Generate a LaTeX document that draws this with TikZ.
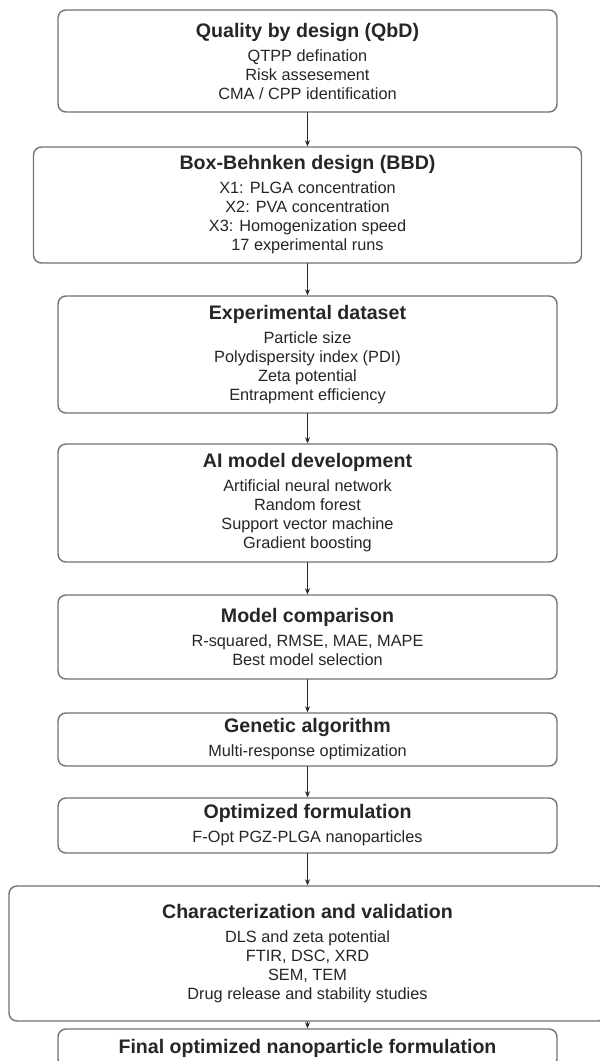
\documentclass[tikz,border=0pt]{standalone}
\usepackage{fontspec}
\setmainfont{Liberation Sans}
\usetikzlibrary{arrows.meta}
\newcommand{\stagehead}[1]{{\fontsize{19.6}{23}\selectfont\bfseries #1}\\[5pt]}
\begin{document}
\begin{tikzpicture}[x=1pt, y=-1pt, line join=round, line cap=round, >={Stealth[length=6pt,width=5pt]},
	stage/.style={draw=black!55, line width=1.4pt, rounded corners=8pt, fill=white, align=center, text=black!85, font=\fontsize{16.3}{19}\selectfont, inner sep=0pt, minimum width=499pt},
	flow/.style={->, line width=1.1pt, black!85}]
		\useasboundingbox (0,0) rectangle (600,1061);
		\clip (0,0) rectangle (600,1061);
		\fill[white] (0,0) rectangle (600,1061);
		\node[stage, minimum height=102pt] (qbd) at (307.5,61) {\stagehead{Quality by design (QbD)}QTPP defination\\Risk assesement\\CMA / CPP identification};
		\node[stage, minimum width=548pt, minimum height=116pt] (bbd) at (307.5,205) {\stagehead{Box-Behnken design (BBD)}X1: PLGA concentration\\X2: PVA concentration\\X3: Homogenization speed\\17 experimental runs};
		\node[stage, minimum height=117pt] (data) at (307.5,354.5) {\stagehead{Experimental dataset}Particle size\\Polydispersity index (PDI)\\Zeta potential\\Entrapment efficiency};
		\node[stage, minimum height=118pt] (ai) at (307.5,503) {\stagehead{AI model development}Artificial neural network\\Random forest\\Support vector machine\\Gradient boosting};
		\node[stage, minimum height=84pt] (comp) at (307.5,637) {\stagehead{Model comparison}R-squared, RMSE, MAE, MAPE\\Best model selection};
		\node[stage, minimum height=53pt] (ga) at (307.5,739.5) {\stagehead{Genetic algorithm}Multi-response optimization};
		\node[stage, minimum height=55pt] (opt) at (307.5,825.5) {\stagehead{Optimized formulation}F-Opt PGZ-PLGA nanoparticles};
		\node[stage, minimum width=597pt, minimum height=135pt] (char) at (307.5,953.5) {\stagehead{Characterization and validation}DLS and zeta potential\\FTIR, DSC, XRD\\SEM, TEM\\Drug release and stability studies};
		\node[stage, minimum height=38pt] (final) at (307.5,1048) {{\fontsize{19.6}{23}\selectfont\bfseries Final optimized nanoparticle formulation}};
		% flow between stages
		\foreach \a/\b in {qbd/bbd, bbd/data, data/ai, ai/comp, comp/ga, ga/opt, opt/char, char/final}
			\draw[flow] (\a.south) -- (\b.north);
	\end{tikzpicture}
\end{document}
